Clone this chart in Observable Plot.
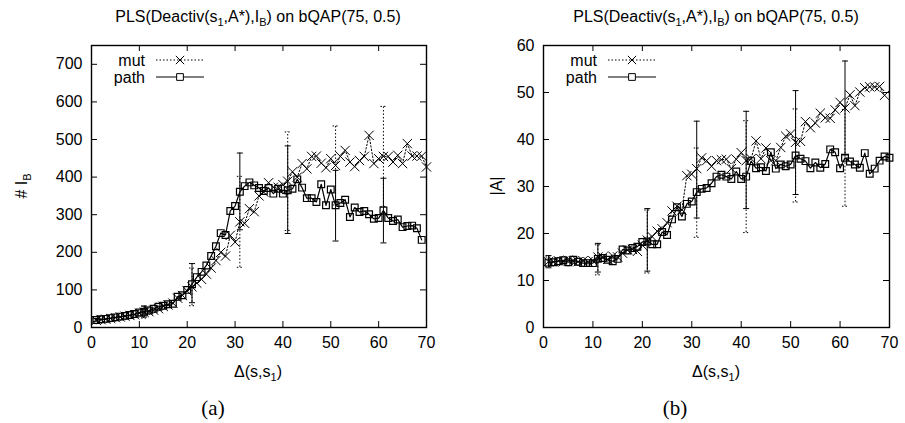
<!DOCTYPE html>
<html><head><meta charset="utf-8">
<script src="https://cdn.jsdelivr.net/npm/d3@7"></script>
<script src="https://cdn.jsdelivr.net/npm/@observablehq/plot@0.6"></script>
<style>
body{margin:0;background:#fff;}
#root{position:relative;width:905px;height:423px;font-family:"Liberation Sans",Arial,sans-serif;overflow:hidden;background:#fff}
.lbl{position:absolute;font-size:16px;white-space:nowrap;color:#000;line-height:1;transform:translate(-50%,-50%)}
.lbl sub{font-size:11px;vertical-align:-4px;line-height:0}
.rot{transform:translate(-50%,-50%) rotate(-90deg)}
.cap{font-family:"Liberation Serif","Times New Roman",serif;font-size:21px}
.pan{position:absolute;top:0}
</style></head><body><div id="root"></div>
<script>
// ---- data ----
const delta = [1,2,3,4,5,6,7,8,9,10,11,12,13,14,15,16,17,18,19,20,21,22,23,24,25,26,27,28,29,30,31,32,33,34,35,36,37,38,39,40,41,42,43,44,45,46,47,48,49,50,51,52,53,54,55,56,57,58,59,60,61,62,63,64,65,66,67,68,69,70];
const xTicks = [0,10,20,30,40,50,60,70];
const yTicksIB = [0,100,200,300,400,500,600,700];
const yTicksA = [0,10,20,30,40,50,60];

const mutIB = [19,21,22,24,26,28,30,32,34,38,40,42,46,50,56,60,65,78,85,97,108,118,128,142,158,178,200,190,245,227,281,277,316,308,350,360,385,373,373,380,389,414,400,436,422,455,456,437,425,449,431,455,471,440,428,444,455,511,436,449,455,455,440,458,436,489,456,456,456,427];
const pathIB = [20,22,23,25,27,29,31,33,36,40,42,45,50,55,58,62,63,82,86,100,115,134,148,165,190,216,251,246,310,323,361,376,386,378,371,363,371,356,369,356,365,369,394,372,344,344,334,381,325,367,325,331,340,294,319,307,310,301,289,291,311,291,283,287,267,270,271,264,233];
const mutA = [14.0,14.0,14.2,14.0,14.3,14.1,14.0,14.2,14.0,14.2,15.0,15.0,14.5,15.2,15.0,15.8,16.5,16.6,16.2,17.5,18.6,19.3,20.5,21.0,22.3,24.8,25.8,25.0,32.3,32.6,33.8,36.1,35.5,34.3,35.5,35.7,35.8,33.8,35.8,37.2,35.5,35.9,39.7,35.9,38.2,35.5,35.5,38.3,40.7,41.2,39.4,39.6,43.8,42.5,43.5,45.6,44.6,44.5,46.3,47.9,46.7,49.5,47.2,50.1,51.0,51.2,51.2,51.3,49.4];
const pathA = [13.8,13.9,14.1,14.3,13.9,14.4,14.0,13.7,13.7,13.7,14.6,14.8,14.4,14.1,14.6,16.6,16.4,16.9,17.2,18.2,18.3,17.7,17.7,20.3,19.7,23.0,25.6,23.6,26.3,26.8,28.8,29.5,29.7,30.7,32.1,32.5,32.1,31.6,33.2,31.6,32.1,35.4,33.9,34.1,33.3,37.3,33.8,34.7,34.3,34.7,36.6,35.9,35.4,33.9,35.1,34.0,34.8,37.9,37.3,33.9,36.1,35.3,34.7,34.0,37.1,32.7,33.8,35.5,36.4,36.1];

const errX = [1,11,21,31,41,51,61];
const mutIBLo = [16,25,58,160,258,326,322];
const mutIBHi = [23,57,158,402,520,536,588];
const pathIBLo = [17,28,66,260,250,230,225];
const pathIBHi = [24,57,170,464,483,418,397];
const mutALo = [12.7,11.8,12.0,23.3,25.3,28.3,36.7];
const mutAHi = [15.3,17.9,25.3,43.9,46.0,50.4,56.7];
const pathALo = [13.0,11.2,11.6,19.2,20.2,26.7,25.8];
const pathAHi = [15.0,17.6,25.0,38.2,44.0,46.5,46.4];

const seriesNames = ["mut","path"];

// ---- drawing ----
const DOT = "1.5,2";
const capSymbol = {draw(ctx){ ctx.moveTo(-3,0); ctx.lineTo(3,0); }};

function panel(o){
  const H = 390, mt = 45, mb = 63;
  const plotW = o.width - o.ml - o.mr, plotH = H - mt - mb;
  const mutRows = o.mut.map((v,i)=>({x: delta[i], y: v}));
  const pathRows = o.path.map((v,i)=>({x: delta[i], y: v}));
  const mutErr = errX.map((x,i)=>({x, lo:o.mutLo[i], hi:o.mutHi[i]}));
  const pathErr = errX.map((x,i)=>({x, lo:o.pathLo[i], hi:o.pathHi[i]}));
  const errMarks = (rows, dash) => [
    Plot.ruleX(rows, {x:"x", y1:"lo", y2:"hi", stroke:"#000", strokeWidth:1, strokeDasharray: dash}),
    Plot.dot(rows, {x:"x", y:"lo", symbol:capSymbol, r:2, fill:"none", stroke:"#000", strokeWidth:1, strokeDasharray: dash}),
    Plot.dot(rows, {x:"x", y:"hi", symbol:capSymbol, r:2, fill:"none", stroke:"#000", strokeWidth:1, strokeDasharray: dash})
  ];
  const svg = Plot.plot({
    width:o.width, height:H, marginLeft:o.ml, marginRight:o.mr, marginTop:mt, marginBottom:mb,
    x:{domain:[0,70], label:null},
    y:{domain:o.yDomain, label:null},
    style:{fontFamily:"'Liberation Sans', Arial, sans-serif", fontSize:"16px", color:"#000", background:"#fff", overflow:"visible"},
    marks:[
      Plot.axisX(xTicks, {tickSize:0, tickPadding:9, fontSize:16, label:null}),
      Plot.axisY(o.yTicks, {tickSize:0, tickPadding:9, fontSize:16, label:null}),
      Plot.tickX(xTicks, {x:d=>d, insetTop:plotH-6, stroke:"#000"}),
      Plot.tickX(xTicks, {x:d=>d, insetBottom:plotH-6, stroke:"#000"}),
      Plot.tickY(o.yTicks, {y:d=>d, insetRight:plotW-6, stroke:"#000"}),
      Plot.tickY(o.yTicks, {y:d=>d, insetLeft:plotW-6, stroke:"#000"}),
      ...errMarks(mutErr, o.mutErrDash),
      ...errMarks(pathErr, o.pathErrDash),
      Plot.line(mutRows, {x:"x", y:"y", stroke:"#000", strokeWidth:1, strokeDasharray:DOT}),
      Plot.dot(mutRows, {x:"x", y:"y", symbol:"times", r:4.3, stroke:"#000", strokeWidth:1}),
      Plot.line(pathRows, {x:"x", y:"y", stroke:"#000", strokeWidth:1.2}),
      Plot.dot(pathRows, {x:"x", y:"y", symbol:"square", r:3.8, fill:"none", stroke:"#000", strokeWidth:1.2}),
      Plot.frame({stroke:"#000", strokeWidth:1.4})
    ]
  });
  // legend
  const g = d3.select(svg).append("g").attr("font-family","'Liberation Sans', Arial, sans-serif").attr("font-size",16);
  const rowsY = [60, 77];
  seriesNames.forEach((name,i)=>{
    const y = rowsY[i];
    g.append("text").attr("x",145).attr("y",y).attr("dy","0.35em").attr("text-anchor","end").text(name);
    g.append("line").attr("x1",156).attr("x2",204).attr("y1",y).attr("y2",y).attr("stroke","#000")
      .attr("stroke-width", i===0?1:1.2).attr("stroke-dasharray", i===0?DOT:null);
    g.append("path").attr("transform",`translate(180,${y})`)
      .attr("d", d3.symbol(i===0?d3.symbolTimes:d3.symbolSquare, i===0?4.3*4.3*Math.PI*0.8:3.8*3.8*Math.PI)())
      .attr("fill", i===0?"none":"#fff").attr("stroke","#000").attr("stroke-width",1);
  });
  return svg;
}

const root = document.getElementById("root");
function place(svg, left){ const d=document.createElement("div"); d.className="pan"; d.style.left=left+"px"; d.appendChild(svg); root.appendChild(d); }
place(panel({width:450, ml:91, mr:24, yDomain:[0,750], yTicks:yTicksIB, mut:mutIB, path:pathIB,
  mutLo:mutIBLo, mutHi:mutIBHi, pathLo:pathIBLo, pathHi:pathIBHi, mutErrDash:DOT, pathErrDash:null}), 0);
place(panel({width:453, ml:91, mr:16, yDomain:[0,60], yTicks:yTicksA, mut:mutA, path:pathA,
  mutLo:mutALo, mutHi:mutAHi, pathLo:pathALo, pathHi:pathAHi, mutErrDash:null, pathErrDash:DOT}), 452);

function label(html, x, y, cls){ const d=document.createElement("div"); d.className="lbl "+(cls||""); d.style.left=x+"px"; d.style.top=y+"px"; d.innerHTML=html; root.appendChild(d); }
const title = "PLS(Deactiv(s<sub>1</sub>,A*),I<sub>B</sub>) on bQAP(75, 0.5)";
label(title, 258, 17); label(title, 716, 17);
label("# I<sub>B</sub>", 22, 186, "rot");
label("|A|", 497, 186, "rot");
label("&Delta;(s,s<sub>1</sub>)", 258, 372);
label("&Delta;(s,s<sub>1</sub>)", 716, 372);
label("(a)", 213, 408, "cap");
label("(b)", 675, 408, "cap");
</script></body></html>
